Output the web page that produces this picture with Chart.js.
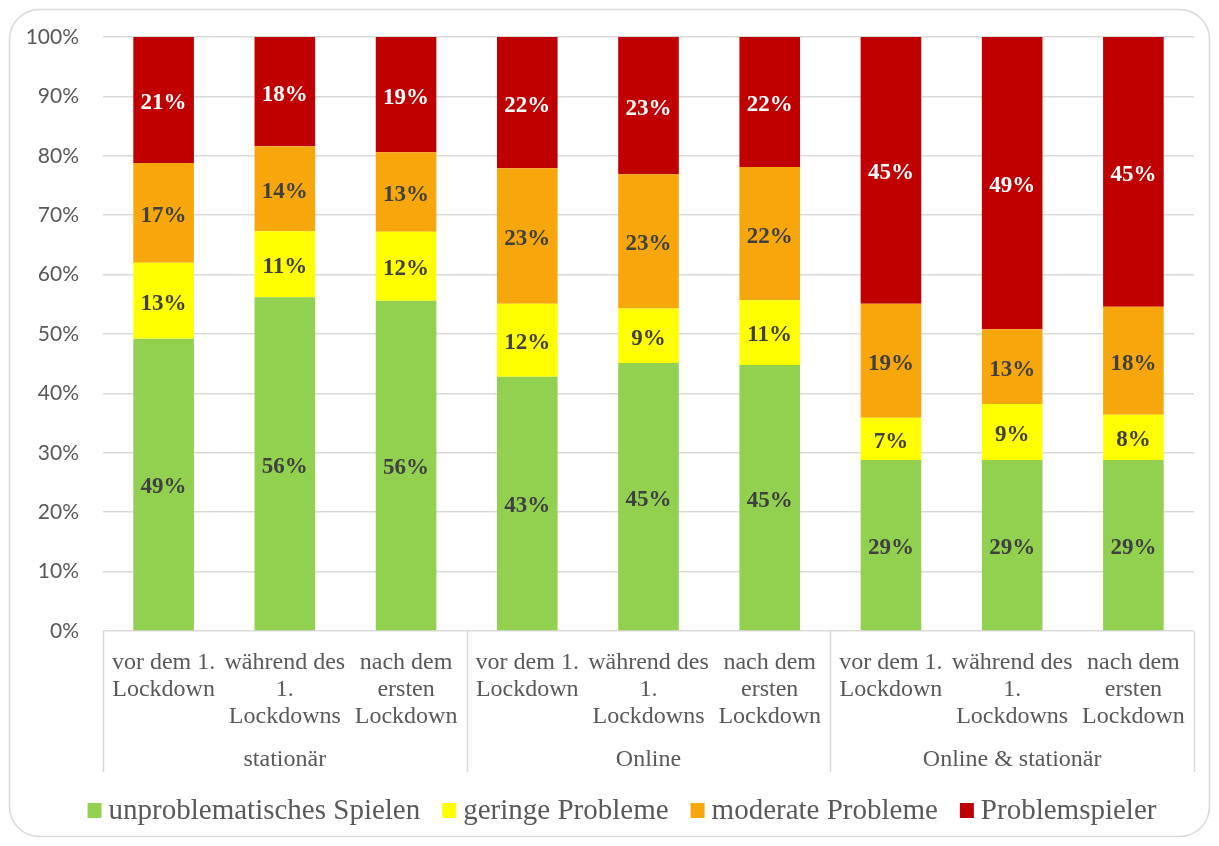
<!DOCTYPE html>
<html lang="de">
<head>
<meta charset="utf-8">
<title>Glücksspielverhalten vor, während und nach dem 1. Lockdown</title>
<script src="https://cdn.jsdelivr.net/npm/chart.js@4.4.1/dist/chart.umd.min.js"></script>
<style>
  html, body { margin: 0; padding: 0; background: #ffffff; }
  #wrap { width: 1219px; height: 846px; position: relative; }
  canvas { display: block; }
</style>
</head>
<body>
<div id="wrap"><canvas id="chart" width="1219" height="846"></canvas></div>
<script>
// Zeitpunkte je Spielform (mehrzeilige Achsenbeschriftung)
const categories = [
  ['vor dem 1.', 'Lockdown'], ['während des', '1.', 'Lockdowns'], ['nach dem', 'ersten', 'Lockdown'],
  ['vor dem 1.', 'Lockdown'], ['während des', '1.', 'Lockdowns'], ['nach dem', 'ersten', 'Lockdown'],
  ['vor dem 1.', 'Lockdown'], ['während des', '1.', 'Lockdowns'], ['nach dem', 'ersten', 'Lockdown']
];
// Spielform, je drei Zeitpunkte
const groups = ['stationär', 'Online', 'Online & stationär'];
const groupSize = 3;

// Anteile in Prozent
const unproblematisch = [49.2, 56.2, 55.6, 42.8, 45.1, 44.8, 28.8, 28.8, 28.8];
const gering          = [12.8, 11.1, 11.6, 12.3,  9.2, 10.9,  7.1,  9.4,  7.6];
const moderat         = [16.8, 14.3, 13.4, 22.8, 22.6, 22.4, 19.2, 12.6, 18.2];
const problemspieler  = [21.2, 18.4, 19.4, 22.1, 23.1, 21.9, 44.9, 49.2, 45.4];

const yTicks = [0, 10, 20, 30, 40, 50, 60, 70, 80, 90, 100];

const seriesNames  = ['unproblematisches Spielen', 'geringe Probleme', 'moderate Probleme', 'Problemspieler'];
const seriesColors = ['#92d050', '#ffff00', '#f7a70c', '#c00000'];
const labelColors  = ['#404040', '#404040', '#404040', '#ffffff'];

const SERIF = '"Liberation Serif", "Times New Roman", serif';
const GRID = '#d9d9d9';
const TEXT = '#595959';

// Rahmen um die gesamte Grafik
const frame = {
  id: 'frame',
  beforeDraw(chart) {
    const ctx = chart.ctx;
    ctx.save();
    ctx.fillStyle = '#ffffff';
    ctx.fillRect(0, 0, chart.width, chart.height);
    ctx.beginPath();
    ctx.roundRect(9.5, 9.5, chart.width - 19, chart.height - 19, 30);
    ctx.strokeStyle = GRID;
    ctx.lineWidth = 1.5;
    ctx.stroke();
    ctx.restore();
  }
};

// Prozentwerte mittig in den Segmenten
const valueLabels = {
  id: 'valueLabels',
  afterDatasetsDraw(chart) {
    const ctx = chart.ctx;
    ctx.save();
    ctx.font = 'bold 23px ' + SERIF;
    ctx.textAlign = 'center';
    ctx.textBaseline = 'middle';
    chart.data.datasets.forEach((ds, di) => {
      const meta = chart.getDatasetMeta(di);
      meta.data.forEach((bar, i) => {
        const v = ds.data[i];
        ctx.fillStyle = labelColors[di];
        ctx.fillText(Math.round(v) + '%', bar.x, (bar.y + bar.base) / 2 + 3);
      });
    });
    ctx.restore();
  }
};

// Zweite Beschriftungsebene: Spielform mit Trennlinien
const groupAxis = {
  id: 'groupAxis',
  afterDraw(chart) {
    const ctx = chart.ctx;
    const x = chart.scales.x;
    const area = chart.chartArea;
    const bottom = x.bottom;
    const bounds = [area.left];
    for (let g = 1; g < groups.length; g++) {
      const i = g * groupSize;
      bounds.push((x.getPixelForValue(i - 1) + x.getPixelForValue(i)) / 2);
    }
    bounds.push(area.right);
    ctx.save();
    ctx.strokeStyle = GRID;
    ctx.lineWidth = 1.5;
    bounds.forEach(b => {
      const px = Math.round(b) + 0.5;
      ctx.beginPath();
      ctx.moveTo(px, area.bottom);
      ctx.lineTo(px, bottom);
      ctx.stroke();
    });
    ctx.font = '24px ' + SERIF;
    ctx.fillStyle = TEXT;
    ctx.textAlign = 'center';
    ctx.textBaseline = 'middle';
    groups.forEach((g, k) => {
      ctx.fillText(g, (bounds[k] + bounds[k + 1]) / 2, bottom - 12);
    });
    ctx.restore();
  }
};

// Legende unterhalb der Achse
const legendRow = {
  id: 'legendRow',
  afterDraw(chart) {
    const ctx = chart.ctx;
    ctx.save();
    ctx.font = '29px ' + SERIF;
    ctx.textBaseline = 'middle';
    ctx.textAlign = 'left';
    const box = 14, gapText = 7, gapItem = 22;
    const items = chart.data.datasets.map(ds => ({ text: ds.label, color: ds.backgroundColor, w: ctx.measureText(ds.label).width }));
    const total = items.reduce((s, it) => s + box + gapText + it.w, 0) + gapItem * (items.length - 1);
    let cx = 622 - total / 2;
    const cy = 810;
    items.forEach(it => {
      ctx.fillStyle = it.color;
      ctx.fillRect(cx, cy - 7, box, 15);
      ctx.fillStyle = TEXT;
      ctx.fillText(it.text, cx + box + gapText, cy + 1);
      cx += box + gapText + it.w + gapItem;
    });
    ctx.restore();
  }
};

const datasets = [unproblematisch, gering, moderat, problemspieler].map((values, k) => ({
  label: seriesNames[k],
  data: values,
  backgroundColor: seriesColors[k],
  borderWidth: 0,
  barPercentage: 0.5,
  categoryPercentage: 1.0
}));

new Chart(document.getElementById('chart'), {
  type: 'bar',
  data: { labels: categories, datasets },
  plugins: [frame, valueLabels, groupAxis, legendRow],
  options: {
    responsive: false,
    animation: false,
    events: [],
    layout: { padding: { top: 37, right: 25, bottom: 74, left: 0 } },
    plugins: {
      legend: { display: false },
      tooltip: { enabled: false },
      title: { display: false }
    },
    scales: {
      x: {
        stacked: true,
        offset: true,
        grid: { display: false },
        border: { display: false },
        ticks: {
          autoSkip: false,
          maxRotation: 0,
          minRotation: 0,
          padding: 10,
          color: TEXT,
          font: { family: SERIF, size: 24, lineHeight: 1.125 }
        },
        afterFit(scale) { scale.height = 141; }
      },
      y: {
        stacked: true,
        min: 0,
        max: 100,
        afterBuildTicks(scale) { scale.ticks = yTicks.map(v => ({ value: v })); },
        grid: { color: GRID, lineWidth: 1.5, drawTicks: false },
        border: { display: false },
        ticks: {
          padding: 24,
          color: TEXT,
          font: { family: 'Lato, "Open Sans", sans-serif', size: 21 },
          callback: v => v + '%'
        },
        afterFit(scale) { scale.width = 103; }
      }
    }
  }
});
</script>
</body>
</html>
